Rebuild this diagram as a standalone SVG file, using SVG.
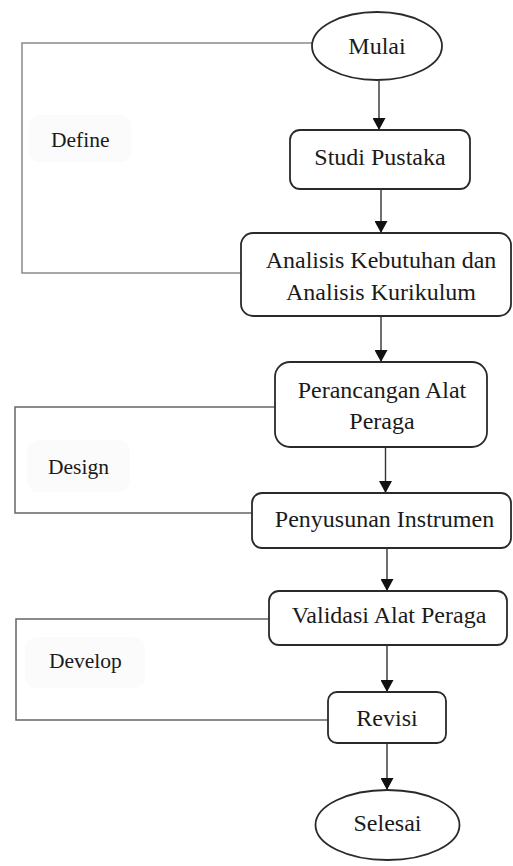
<svg xmlns="http://www.w3.org/2000/svg" width="513" height="866" viewBox="0 0 513 866">
  <defs>
    <marker id="arrow" markerUnits="userSpaceOnUse" markerWidth="14" markerHeight="13" refX="12" refY="6.5" orient="auto">
      <path d="M0,0 L12,6.5 L0,13 Z" fill="#111"/>
    </marker>
  </defs>
  <style>
    .node { fill: #fff; stroke: #2a2a2a; stroke-width: 1.8; }
    text { font-family: "Liberation Serif", Tinos, "Times New Roman", Times, "DejaVu Serif", serif; }
    .txt { font-size: 24px; fill: #1a1a1a; text-anchor: middle; }
    .lbl { font-size: 21.5px; fill: #1a1a1a; }
    .lblbg { fill: #fbfbfb; stroke: none; }
    .conn { fill: none; stroke: #333; stroke-width: 1.4; marker-end: url(#arrow); }
    .bracket { fill: none; stroke: #666; stroke-width: 1.5; }
  </style>
  <rect width="513" height="866" fill="#fff"/>

  <g id="phases">
    <g id="define">
      <polyline class="bracket" style="stroke:#8a8a8a" points="312,43 22,43 22,273 241,273"/>
      <rect class="lblbg" x="29" y="115" width="102" height="47" rx="10"/>
      <text class="lbl" x="51" y="147">Define</text>
    </g>
    <g id="design">
      <polyline class="bracket" points="275,407 15,407 15,513 252,513"/>
      <rect class="lblbg" x="27" y="440" width="103" height="52" rx="12"/>
      <text class="lbl" x="48" y="474">Design</text>
    </g>
    <g id="develop">
      <polyline class="bracket" points="269,619 16,619 16,720 328,720"/>
      <rect class="lblbg" x="25" y="637" width="120" height="51" rx="12"/>
      <text class="lbl" x="49" y="668">Develop</text>
    </g>
  </g>

  <g id="connectors">
    <line class="conn" x1="379" y1="81" x2="379" y2="130"/>
    <line class="conn" x1="381" y1="189" x2="381" y2="233"/>
    <line class="conn" x1="381" y1="316" x2="381" y2="362"/>
    <line class="conn" x1="385.5" y1="447" x2="385.5" y2="493"/>
    <line class="conn" x1="387" y1="548" x2="387" y2="591"/>
    <line class="conn" x1="387" y1="645" x2="387" y2="692"/>
    <line class="conn" x1="387" y1="743" x2="387" y2="790"/>
  </g>

  <g id="nodes">
  <g id="mulai">
    <ellipse class="node" cx="377" cy="46" rx="65" ry="34"/>
    <text class="txt" x="377" y="54">Mulai</text>
  </g>
  <g id="studi-pustaka">
    <rect class="node" x="290" y="130" width="180" height="59" rx="10"/>
    <text class="txt" x="380" y="165">Studi Pustaka</text>
  </g>
  <g id="analisis">
    <rect class="node" x="241" y="233" width="270" height="83" rx="12"/>
    <text class="txt" x="381" y="268">Analisis Kebutuhan dan</text>
    <text class="txt" x="381" y="300">Analisis Kurikulum</text>
  </g>
  <g id="perancangan">
    <rect class="node" x="275" y="362" width="212" height="85" rx="15"/>
    <text class="txt" x="382" y="398">Perancangan Alat</text>
    <text class="txt" x="382" y="429">Peraga</text>
  </g>
  <g id="penyusunan">
    <rect class="node" x="252" y="493" width="259" height="55" rx="10"/>
    <text class="txt" x="384.5" y="527">Penyusunan Instrumen</text>
  </g>
  <g id="validasi">
    <rect class="node" x="269" y="591" width="238" height="54" rx="10"/>
    <text class="txt" x="389" y="623">Validasi Alat Peraga</text>
  </g>
  <g id="revisi">
    <rect class="node" x="328" y="692" width="118" height="51" rx="9"/>
    <text class="txt" x="387" y="726">Revisi</text>
  </g>
  <g id="selesai">
    <ellipse class="node" cx="387.5" cy="825" rx="72" ry="35"/>
    <text class="txt" x="387.5" y="831">Selesai</text>
  </g>
  </g>
</svg>
